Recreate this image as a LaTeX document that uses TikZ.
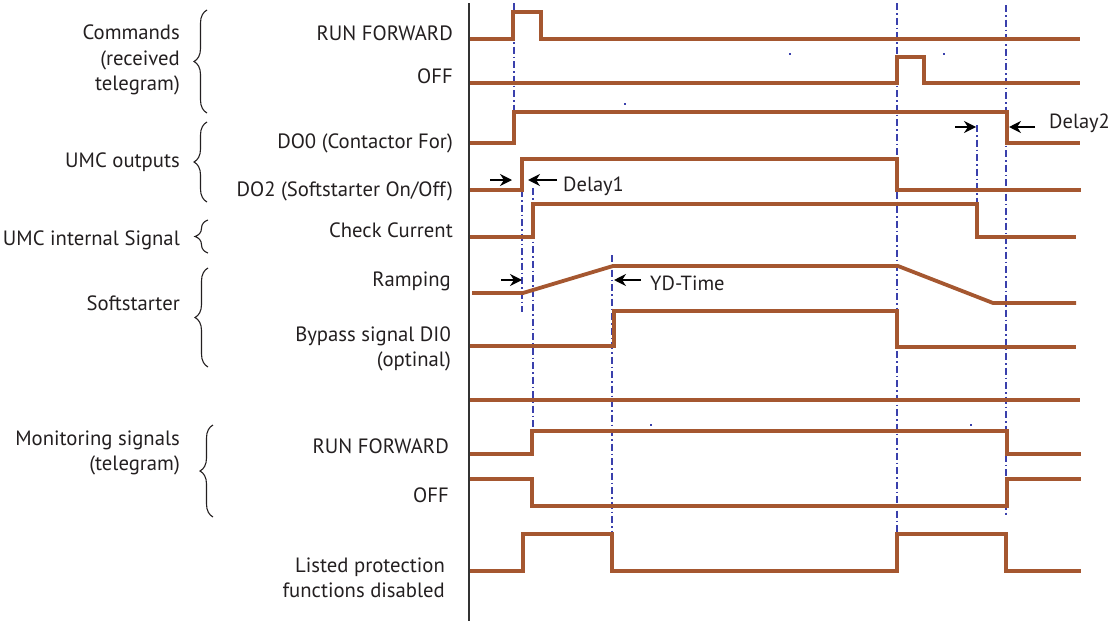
\documentclass[tikz,border=0pt]{standalone}
\usepackage{fontspec}
\setmainfont{PT Sans}
\usetikzlibrary{decorations.pathreplacing,arrows.meta}
\definecolor{sigc}{RGB}{165,87,48}
\definecolor{markc}{RGB}{58,64,172}
\definecolor{axc}{RGB}{50,50,50}
\definecolor{txc}{RGB}{35,31,32}
\begin{document}
\begin{tikzpicture}[x=1pt,y=-1pt,
  sig/.style={draw=sigc,line width=3.8pt},
  tmark/.style={draw=markc,line width=1.3pt,dash pattern=on 7pt off 3pt on 1.5pt off 3pt},
  lbl/.style={anchor=base east,inner sep=0pt,font=\fontsize{20.7}{24}\selectfont,text=txc},
  note/.style={anchor=base west,inner sep=0pt,font=\fontsize{20.5}{24}\selectfont,text=txc},
  grp/.style={draw=txc,line width=1.1pt,decorate,decoration={brace,amplitude=13pt}},
  arr/.style={draw=black,line width=1.6pt,-{Stealth[length=12pt,width=12pt]}}]
\useasboundingbox (0,0) rectangle (1111,621);

% time axis
\draw[axc,line width=1.5pt] (469,3) -- (469,621);

% group labels
\node[lbl] (g1a) at (180,39) {Commands};
\node[lbl] (g1b) at (180,65) {(received};
\node[lbl] (g1c) at (180,90) {telegram)};
\node[lbl] (g2) at (180,167) {UMC outputs};
\node[lbl] (g3) at (180,245) {UMC internal Signal};
\node[lbl] (g4) at (180,310) {Softstarter};
\node[lbl] (g5a) at (180,445) {Monitoring signals};
\node[lbl] (g5b) at (180,470) {(telegram)};

% braces
\draw[grp] (207,113) -- (207,10);
\draw[grp] (207,202) -- (207,122);
\draw[grp] (208,253) -- (208,220);
\draw[grp] (208,367) -- (208,268);
\draw[grp] (213,517) -- (213,425);

% signal labels
\node[lbl] (l1) at (453,40) {RUN FORWARD};
\node[lbl] (l2) at (453,83) {OFF};
\node[lbl] (l3) at (453,148) {DO0 (Contactor For)};
\node[lbl] (l4) at (453,196) {DO2 (Softstarter On/Off)};
\node[lbl] (l5) at (453,237) {Check Current};
\node[lbl] (l6) at (451,286) {Ramping};
\node[lbl] (l7a) at (451,341) {Bypass signal DI0};
\node[lbl] (l7b) at (451,366) {(optinal)};
\node[lbl] (l9) at (449,453) {RUN FORWARD};
\node[lbl] (l10) at (449,502) {OFF};
\node[lbl] (l11a) at (445,572) {Listed protection};
\node[lbl] (l11b) at (445,597) {functions disabled};

% marker lines (dash-dot)
\draw[tmark] (514,3) -- (514,112);
\draw[tmark] (522,190) -- (522,312);
\draw[tmark] (533,188) -- (533,431);
\draw[tmark] (612,255) -- (612,534);
\draw[tmark] (897,3) -- (897,534);
\draw[tmark] (1006,5) -- (1006,515);
\draw[tmark] (977,125) -- (977,204);

% stray marks
\foreach \p in {(625,104),(790,54),(944,54),(651,425),(971,425)}
  \fill[markc] \p ++(-1,-0.7) rectangle ++(2,1.4);

% signals
\draw[sig] (470,39) -- (513,39) -- (513,12) -- (541,12) -- (541,39) -- (1080,39);
\draw[sig] (470,83) -- (897,83) -- (897,57) -- (924,57) -- (924,83) -- (1080,83);
\draw[sig] (470,143) -- (514,143) -- (514,112) -- (1007,112) -- (1007,143) -- (1080,143);
\draw[sig] (470,190) -- (522,190) -- (522,159) -- (897,159) -- (897,190) -- (1081,190);
\draw[sig] (470,237) -- (533,237) -- (533,204) -- (977,204) -- (977,237) -- (1076,237);
\draw[sig] (472,293) -- (523,293) -- (613,266) -- (898,266) -- (993,303) -- (1076,303);
\draw[sig] (470,346) -- (614,346) -- (614,311) -- (897,311) -- (897,347) -- (1076,347);
\draw[sig] (470,400) -- (1080,400);
\draw[sig] (470,454) -- (532,454) -- (532,431) -- (1007,431) -- (1007,454) -- (1081,454);
\draw[sig] (470,479) -- (532,479) -- (532,506) -- (1007,506) -- (1007,479) -- (1081,479);
\draw[sig] (470,571) -- (523,571) -- (523,534) -- (612,534) -- (612,571) -- (897,571) -- (897,534) -- (1006,534) -- (1006,571) -- (1081,571);

% delay arrows
\coordinate (d1a) at (490,180); \coordinate (d1b) at (512,180);
\coordinate (d1c) at (557,180); \coordinate (d1d) at (528,180);
\draw[arr] (d1a) -- (d1b);
\draw[arr] (d1c) -- (d1d);
\node[note] (t1) at (563,191) {Delay1};

\coordinate (d2a) at (955,127); \coordinate (d2b) at (976,127);
\coordinate (d2c) at (1035,127); \coordinate (d2d) at (1009,127);
\draw[arr] (d2a) -- (d2b);
\draw[arr] (d2c) -- (d2d);
\node[note] (t2) at (1049,128) {Delay2};

\coordinate (d3a) at (501,280); \coordinate (d3b) at (522,280);
\coordinate (d3c) at (641,280); \coordinate (d3d) at (614,280);
\draw[arr] (d3a) -- (d3b);
\draw[arr] (d3c) -- (d3d);
\node[note] (t3) at (650,290) {YD-Time};
\end{tikzpicture}
\end{document}
